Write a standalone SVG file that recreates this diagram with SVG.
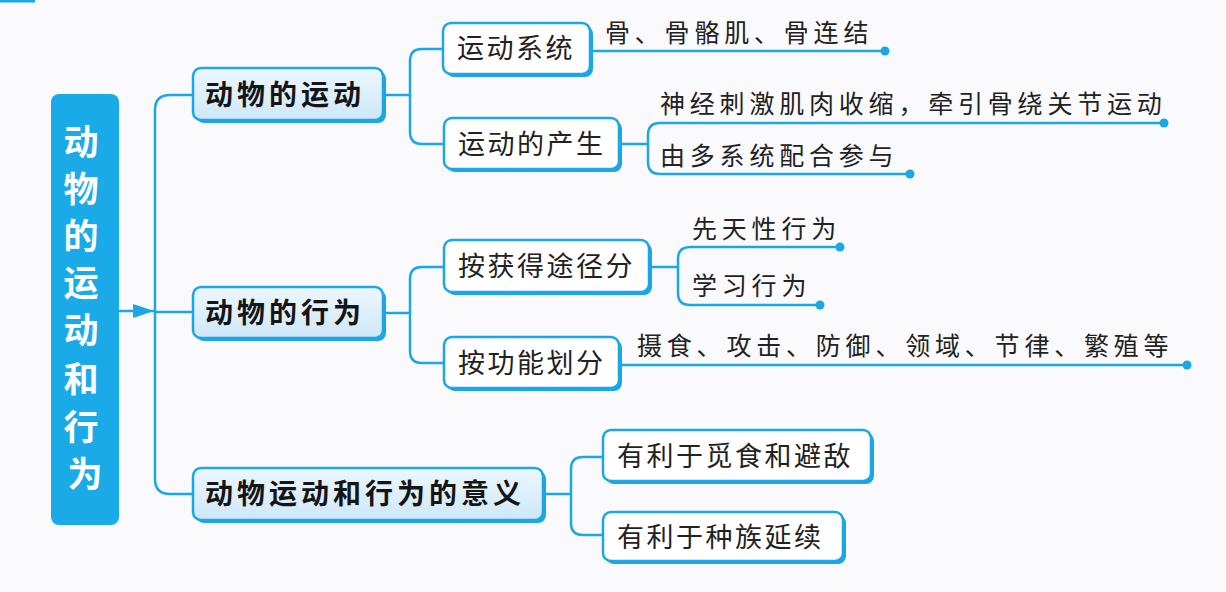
<svg xmlns="http://www.w3.org/2000/svg" width="1226" height="592" viewBox="0 0 1226 592">
<defs>
<linearGradient id="g1" x1="0" y1="0" x2="0" y2="1">
<stop offset="0" stop-color="#edf7fe"/>
<stop offset="1" stop-color="#cfe7f8"/>
</linearGradient>
</defs>
<style>
.ln{fill:none;stroke:#1ba6e6;stroke-width:2.5}
.dot{fill:#1ba6e6}
.sh{fill:#1ba6e6}
.b1{fill:url(#g1);stroke:#1ba6e6;stroke-width:2.5}
.b2{fill:#ffffff;stroke:#1ba6e6;stroke-width:2.5}
.t1{font-family:"Noto Sans CJK SC",sans-serif;font-weight:bold;font-size:28px;fill:#151515;letter-spacing:4px}
.t2{font-family:"Noto Sans CJK SC",sans-serif;font-size:27px;fill:#222;letter-spacing:2.5px}
.t3{font-family:"Noto Sans CJK SC",sans-serif;font-size:25px;fill:#222;letter-spacing:4.8px}
.tr{font-family:"Noto Sans CJK SC",sans-serif;font-weight:bold;font-size:35px;fill:#ffffff}
</style>
<rect width="1226" height="592" fill="#fafafc"/>
<rect x="0" y="0" width="35" height="2.5" fill="#1ba6e6"/>

<g id="connectors">
<path class="ln" d="M119,311 H155"/>
<path class="dot" d="M133,304 L154,311 L133,318 z"/>
<path class="ln" d="M193,95 H170 Q155,95 155,110 V479 Q155,494 170,494 H193"/>
<path class="ln" d="M155,312 H193"/>
<path class="ln" d="M383,95 H410"/>
<path class="ln" d="M443,49 H422 Q410,49 410,61 V132 Q410,144 422,144 H444"/>
<path class="ln" d="M383,313 H410"/>
<path class="ln" d="M444,267 H422 Q410,267 410,279 V351 Q410,363 422,363 H444"/>
<path class="ln" d="M543,494 H571"/>
<path class="ln" d="M603,457 H583 Q571,457 571,469 V523 Q571,535 583,535 H603"/>
<path class="ln" d="M590,51 H885"/>
<circle class="dot" cx="885" cy="51" r="4.5"/>
<path class="ln" d="M619,144 H648"/>
<path class="ln" d="M1164,123 H660 Q648,123 648,135 V162 Q648,174 660,174 H910"/>
<circle class="dot" cx="1164" cy="123" r="4.5"/>
<circle class="dot" cx="910" cy="174" r="4.5"/>
<path class="ln" d="M649,267 H678"/>
<path class="ln" d="M840,247 H690 Q678,247 678,259 V293 Q678,305 690,305 H820"/>
<circle class="dot" cx="840" cy="247" r="4.5"/>
<circle class="dot" cx="820" cy="305" r="4.5"/>
<path class="ln" d="M619,365 H1187"/>
<circle class="dot" cx="1187" cy="365" r="4.5"/>
</g>

<g id="root">
<rect x="51" y="94" width="68" height="431" rx="8" fill="#1aaae8"/>
<text class="tr" text-anchor="middle">
<tspan x="85" y="155">动</tspan>
<tspan x="85" y="202">物</tspan>
<tspan x="85" y="249">的</tspan>
<tspan x="85" y="296">运</tspan>
<tspan x="85" y="343">动</tspan>
<tspan x="85" y="392">和</tspan>
<tspan x="85" y="440">行</tspan>
<tspan x="85" y="487">为</tspan>
</text>
</g>

<g id="n-motion">
<rect class="sh" x="196" y="71" width="190" height="52" rx="8"/>
<rect class="b1" x="193" y="68" width="190" height="52" rx="8"/>
<text class="t1" x="205" y="105">动物的运动</text>
</g>
<g id="n-behavior">
<rect class="sh" x="196" y="290" width="190" height="51" rx="8"/>
<rect class="b1" x="193" y="287" width="190" height="51" rx="8"/>
<text class="t1" x="205" y="323">动物的行为</text>
</g>
<g id="n-meaning">
<rect class="sh" x="196" y="471" width="350" height="52" rx="8"/>
<rect class="b1" x="193" y="468" width="350" height="52" rx="8"/>
<text class="t1" x="205" y="504">动物运动和行为的意义</text>
</g>

<g id="n-system">
<rect class="sh" x="446" y="26" width="147" height="51" rx="8"/>
<rect class="b2" x="443" y="23" width="147" height="51" rx="8"/>
<text class="t2" x="457" y="58">运动系统</text>
</g>
<g id="n-origin">
<rect class="sh" x="447" y="121" width="175" height="51" rx="8"/>
<rect class="b2" x="444" y="118" width="175" height="51" rx="8"/>
<text class="t2" x="458" y="154">运动的产生</text>
</g>
<g id="n-acquire">
<rect class="sh" x="447" y="243" width="205" height="52" rx="8"/>
<rect class="b2" x="444" y="240" width="205" height="52" rx="8"/>
<text class="t2" x="458" y="276">按获得途径分</text>
</g>
<g id="n-function">
<rect class="sh" x="447" y="340" width="175" height="51" rx="8"/>
<rect class="b2" x="444" y="337" width="175" height="51" rx="8"/>
<text class="t2" x="458" y="373">按功能划分</text>
</g>
<g id="n-food">
<rect class="sh" x="606" y="433" width="268" height="51" rx="8"/>
<rect class="b2" x="603" y="430" width="268" height="51" rx="8"/>
<text class="t2" x="617" y="466">有利于觅食和避敌</text>
</g>
<g id="n-species">
<rect class="sh" x="606" y="515" width="240" height="49" rx="8"/>
<rect class="b2" x="603" y="512" width="240" height="49" rx="8"/>
<text class="t2" x="617" y="547">有利于种族延续</text>
</g>

<g id="leaf-bones"><text class="t3" x="605" y="42">骨、骨骼肌、骨连结</text></g>
<g id="leaf-nerve"><text class="t3" x="660" y="113">神经刺激肌肉收缩，牵引骨绕关节运动</text></g>
<g id="leaf-multi"><text class="t3" x="660" y="165">由多系统配合参与</text></g>
<g id="leaf-innate"><text class="t3" x="692" y="238">先天性行为</text></g>
<g id="leaf-learn"><text class="t3" x="692" y="295">学习行为</text></g>
<g id="leaf-types"><text class="t3" x="637" y="355">摄食、攻击、防御、领域、节律、繁殖等</text></g>
</svg>
